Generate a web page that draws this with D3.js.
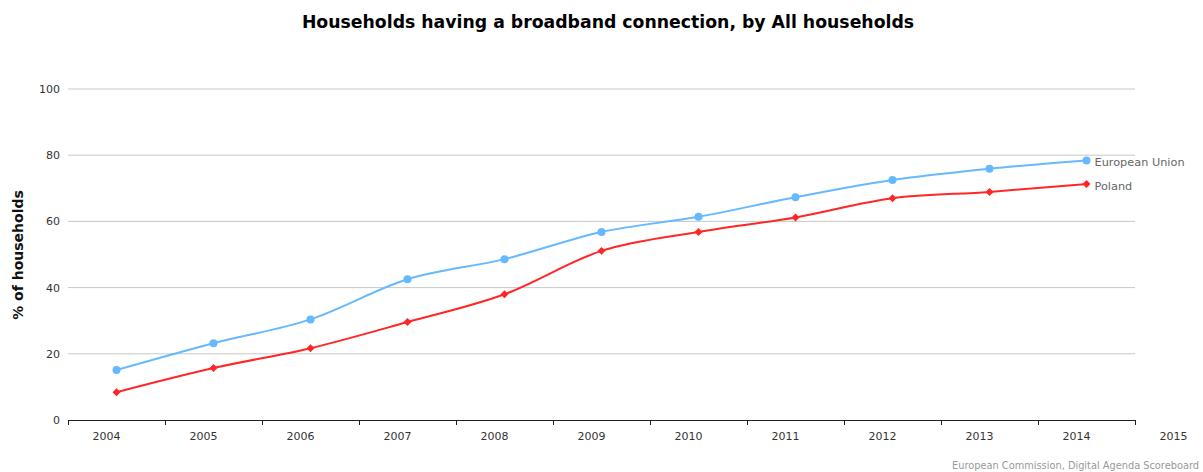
<!DOCTYPE html>
<html>
<head>
<meta charset="utf-8">
<script src="https://cdn.jsdelivr.net/npm/d3@7"></script>
<style>
  html, body { margin: 0; padding: 0; background: #fff; }
  svg { display: block; }
</style>
</head>
<body>
<svg id="chart" width="1203" height="472"></svg>
<script>
const years = [2004, 2005, 2006, 2007, 2008, 2009, 2010, 2011, 2012, 2013, 2014];
const tickYears = [2004, 2005, 2006, 2007, 2008, 2009, 2010, 2011, 2012, 2013, 2014, 2015];
const euValues = [15.1, 23.2, 30.4, 42.5, 48.6, 56.8, 61.4, 67.3, 72.5, 75.9, 78.4];
const plValues = [8.4, 15.7, 21.7, 29.6, 38.0, 51.1, 56.8, 61.2, 67.0, 68.9, 71.3];
const yTicks = [0, 20, 40, 60, 80, 100];
const seriesNames = ["European Union", "Poland"];
const titleText = "Households having a broadband connection, by All households";
const yTitle = "% of households";
const creditText = "European Commission, Digital Agenda Scoreboard";

(function () {
const svg = d3.select("#chart");
const pLeft = 68, pRight = 1135, pTop = 89, pBottom = 420;
const font = "'DejaVu Sans', Verdana, sans-serif";

const x = d3.scaleLinear().domain([2004, 2015]).range([pLeft, pRight]);
const y = d3.scaleLinear().domain([0, 100]).range([pBottom, pTop]);

// title
svg.append("text")
  .attr("x", 608).attr("y", 28)
  .attr("text-anchor", "middle")
  .attr("font-family", font).attr("font-weight", "bold").attr("font-size", 17.3)
  .attr("fill", "#000")
  .text(titleText);

// gridlines
svg.append("g").selectAll("line").data(yTicks.filter(d => d > 0)).join("line")
  .attr("x1", pLeft).attr("x2", pRight)
  .attr("y1", d => y(d)).attr("y2", d => y(d))
  .attr("stroke", "#c8c8c8").attr("stroke-width", 1);

// y axis labels
const yAxis = d3.axisLeft(y).tickValues(yTicks).tickSize(0).tickPadding(8);
const gy = svg.append("g").attr("transform", `translate(${pLeft},0)`).call(yAxis);
gy.select(".domain").remove();
gy.selectAll("text").attr("font-family", font).attr("font-size", 11).attr("fill", "#333");

// y title
svg.append("text")
  .attr("transform", `translate(23,255) rotate(-90)`)
  .attr("text-anchor", "middle")
  .attr("font-family", font).attr("font-weight", "bold").attr("font-size", 14)
  .attr("fill", "#111")
  .text(yTitle);

// x axis
const xAxis = d3.axisBottom(x).tickValues(tickYears).tickFormat(d3.format("d")).tickSize(5).tickSizeOuter(0).tickPadding(5);
const gx = svg.append("g").attr("transform", `translate(0,${pBottom})`).call(xAxis);
gx.select(".domain").attr("stroke", "#222").attr("stroke-width", 1.2);
gx.selectAll(".tick line").attr("stroke", "#222");
gx.selectAll("text").attr("font-family", font).attr("font-size", 11).attr("fill", "#333")
  .attr("dx", 38).attr("dy", "0.9em");

// lines
const line = d3.line().x((d, i) => x(years[i] + 0.5)).y(d => y(d)).curve(d3.curveMonotoneX);
const colors = ["#66b8ff", "#ff2626"];
[euValues, plValues].forEach((vals, k) => {
  svg.append("path").datum(vals)
    .attr("d", line)
    .attr("fill", "none").attr("stroke", colors[k]).attr("stroke-width", 2);
});

// markers
svg.append("g").selectAll("circle").data(euValues).join("circle")
  .attr("cx", (d, i) => x(years[i] + 0.5)).attr("cy", d => y(d))
  .attr("r", 4).attr("fill", colors[0]);

const diamond = d3.symbol().type(d3.symbolDiamond2).size(40);
svg.append("g").selectAll("path").data(plValues).join("path")
  .attr("transform", (d, i) => `translate(${x(years[i] + 0.5)},${y(d)})`)
  .attr("d", diamond).attr("fill", colors[1]);

// end labels
[euValues, plValues].forEach((vals, k) => {
  const last = vals.length - 1;
  svg.append("text")
    .attr("x", x(years[last] + 0.5) + 8).attr("y", y(vals[last]) + 6)
    .attr("font-family", font).attr("font-size", 11.3).attr("fill", "#666")
    .text(seriesNames[k]);
});

// credit
svg.append("text")
  .attr("x", 1199).attr("y", 469)
  .attr("text-anchor", "end")
  .attr("font-family", font).attr("font-size", 9.8).attr("fill", "#999")
  .text(creditText);
})();
</script>
</body>
</html>
